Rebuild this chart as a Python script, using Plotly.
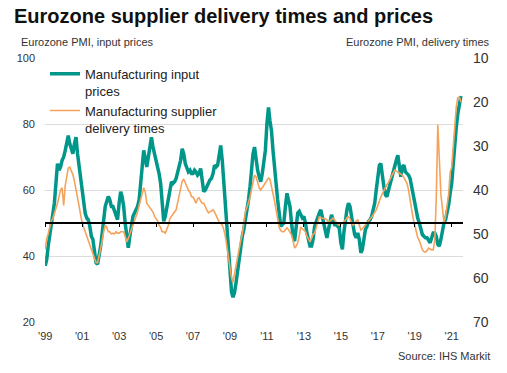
import pandas as pd
import plotly.graph_objects as go

# Manufacturing input prices (left axis), monthly from Jan 1999
input_prices = [
    37, 39, 43, 46, 49, 52, 56, 62, 68, 66, 67, 69,            # 1999
    70, 72, 74, 76.5, 74, 72, 71, 74, 76, 71, 67, 63,          # 2000
    59, 55, 53, 51.5, 51, 49, 46, 45, 42, 38, 37.5, 40,        # 2001
    43, 47, 51, 55, 56.5, 58, 57, 55, 55, 53.5, 52, 51,        # 2002
    56, 59.5, 58, 55, 50, 46, 42.5, 46, 50, 52, 53, 54,        # 2003
    55, 57, 63, 67, 72, 69, 67, 70, 73, 76, 73, 71,            # 2004
    70, 68, 65, 62, 55, 50.5, 52, 55, 58, 60, 62.5, 62,        # 2005
    62.5, 63.5, 65, 67, 69, 72.5, 71, 68, 67, 65.5, 66, 65,    # 2006
    65, 66, 65.5, 64.5, 65, 66.5, 63, 59.5, 60, 61, 62.5, 63,  # 2007
    63.5, 65, 67.5, 67, 67.5, 71, 73.5, 69, 62, 55, 48, 40,    # 2008
    34, 29, 27.5, 29, 32, 36, 40, 44, 46, 48, 51, 53,          # 2009
    57, 61, 66, 71, 73, 69, 66, 64, 62.5, 65, 68, 72,          # 2010
    80, 85, 81, 78, 72, 66, 61, 57, 53, 49, 49.5, 50,          # 2011
    55, 59, 57, 55, 50, 46, 44.5, 48, 53, 53.5, 52.5, 51.5,    # 2012
    52, 50, 47, 44.5, 43, 43, 45, 49, 50.5, 51.5, 53, 54,      # 2013
    52, 50, 48, 45.5, 48, 50.5, 52.5, 51, 49.5, 49.5, 49, 48.5,  # 2014
    44, 42, 47, 51.5, 54, 56, 55, 52, 49, 46.5, 45.5, 47,      # 2015
    45, 41, 42, 45, 48, 49, 50.5, 51, 52, 54, 56, 60,          # 2016
    64, 67.5, 68, 64, 61, 58.5, 58, 60, 62, 64, 66, 68,        # 2017
    69, 70.5, 66.5, 64, 67, 67.5, 65.5, 65, 64.5, 63.5, 61, 58,  # 2018
    56, 53.5, 51.5, 50, 48, 46.5, 46, 45.5, 45.5, 44.5, 44, 45.5,  # 2019
    47, 47, 46, 43.5, 43, 45, 48, 50, 51, 53, 55.5, 59,        # 2020
    62, 68, 74, 79, 83, 86.5, 88.5,                            # 2021
]

# Manufacturing supplier delivery times (right axis, inverted), monthly from Jan 1999
delivery_times = [
    53.5, 51, 50, 48, 47, 46.5, 45.5, 44, 43, 41.5, 40, 39.5,          # 1999
    43.5, 39, 37, 35, 34.8, 35.5, 36.5, 38, 40, 42, 44.5, 46,          # 2000
    47.5, 48.5, 49.5, 50.5, 51.5, 52.5, 53.5, 54.5, 55.5, 56.5, 56.5, 55,  # 2001
    53.5, 51.5, 49.5, 48, 48.5, 49.5, 49.5, 50, 49.8, 50, 49.5, 49.8,  # 2002
    49.8, 49.5, 49.5, 49.5, 50.5, 51.8, 51, 50, 48.5, 48, 47, 46,      # 2003
    45, 43.5, 42.3, 41, 39.5, 40.5, 43, 43.5, 44, 44.5, 45, 46,        # 2004
    46.5, 47, 48, 48.5, 49.5, 49.5, 49.8, 49, 48, 46.5, 46, 45.5,      # 2005
    45, 44.5, 43, 41.5, 40, 38, 37.5, 38.5, 39.5, 40, 40.5, 41.5,      # 2006
    41.6, 42.5, 43, 42, 41.8, 42.5, 43, 43, 44, 44.5, 45.2, 45,        # 2007
    44.8, 44.5, 45, 46, 46.5, 47.3, 47.5, 48, 49, 50.5, 53, 56,        # 2008
    58, 60, 61, 59, 57.5, 55, 53, 51.5, 50, 47.5, 45, 44,              # 2009
    43, 41.6, 40, 38, 36.6, 37, 38.5, 39.5, 40, 39.5, 38.8, 38.4,      # 2010
    38, 37.3, 37.5, 39, 40.5, 42.5, 44.5, 46.5, 48.5, 49.2, 49.5, 49.5,  # 2011
    49, 48.6, 49, 49.5, 50.2, 51.5, 53.2, 52.8, 52, 50.5, 48.4, 48.8,  # 2012
    49.2, 49.5, 50.5, 51.3, 51.8, 51, 50, 49.8, 48.5, 47, 46.1, 46.3,  # 2013
    46.4, 46.4, 46.6, 46.8, 47.5, 47, 46.6, 46.4, 46.8, 47.3, 47.8, 48,  # 2014
    47.8, 47.5, 47.3, 46.8, 46.3, 46.1, 46.6, 47.5, 48, 47.6, 47, 46.8,  # 2015
    47.8, 49.1, 48.8, 48.3, 48, 47.6, 47, 46.6, 46.2, 45.6, 45, 44.5,  # 2016
    43.5, 42.3, 41.6, 40.8, 40, 39.3, 38.8, 38.2, 37.5, 37, 36.2, 35.5,  # 2017
    35.7, 35.9, 36.2, 36.4, 36.6, 37.2, 37.8, 38.5, 40, 42.3, 44.5, 46.5,  # 2018
    48, 49.5, 50.8, 51.5, 52.5, 53.6, 54, 54.1, 53.8, 53.2, 53.4, 53.6,  # 2019
    53.6, 51.5, 42, 25.2, 33, 41, 44, 47.5, 46, 43, 41, 36,            # 2020
    34.8, 30, 25, 21.1, 19, 18.9, 20,                                  # 2021
]

year_ticks = ["'99", "'01", "'03", "'05", "'07", "'09", "'11", "'13", "'15", "'17", "'19", "'21"]
tick_years = list(range(1999, 2022, 2))
threshold = [50]   # no-change level of the input price index

dates = pd.date_range("1999-01-01", periods=len(input_prices), freq="MS")

GREEN = "#00968A"
ORANGE = "#F5A35C"
FONT = "Arial, Liberation Sans, sans-serif"

fig = go.Figure()
fig.add_trace(go.Scatter(
    x=dates, y=input_prices, mode="lines",
    name="Manufacturing input<br>prices",
    line=dict(color=GREEN, width=3.5), yaxis="y",
))
fig.add_trace(go.Scatter(
    x=dates[:len(delivery_times)], y=delivery_times, mode="lines",
    name="Manufacturing supplier<br>delivery times",
    line=dict(color=ORANGE, width=1.6), yaxis="y2",
))
# invisible trace so the mid-level axis (line at 50 with tick marks) is drawn
fig.add_trace(go.Scatter(x=[dates[0]], y=threshold, xaxis="x2", yaxis="y",
                         mode="markers", marker=dict(opacity=0),
                         showlegend=False, hoverinfo="skip"))

xr = ["1998-12-28", "2021-08-12"]
fig.update_layout(
    width=507, height=373,
    margin=dict(l=45, r=44, t=58, b=51, autoexpand=False),
    paper_bgcolor="white", plot_bgcolor="rgba(0,0,0,0)",
    font=dict(family=FONT, color="#333333", size=11),
    showlegend=True,
    legend=dict(x=0.0, y=0.997, xanchor="left", yanchor="top",
                bgcolor="rgba(0,0,0,0)", font=dict(size=13, color="#222222"),
                valign="top", tracegroupgap=3, itemwidth=30),
    xaxis=dict(type="date", range=xr, showgrid=False, zeroline=False,
               showline=False, ticks="", ticklabelstandoff=6,
               tickvals=[f"{y}-01-01" for y in tick_years], ticktext=year_ticks,
               tickfont=dict(size=11, color="#333333")),
    xaxis2=dict(type="date", range=xr, overlaying="x", anchor="free",
                position=(threshold[0] - 20) / 80, showline=True,
                linecolor="black", linewidth=1.5,
                ticks="outside", ticklen=3, tickcolor="black", tickwidth=1,
                tickvals=[f"{y}-01-01" for y in tick_years],
                showticklabels=False, showgrid=False, zeroline=False),
    yaxis=dict(range=[20, 100], tickvals=[20, 40, 60, 80, 100],
               showgrid=True, gridcolor="#dcdcdc", gridwidth=1,
               zeroline=False, showline=False, ticks="", ticklabelstandoff=9,
               tickfont=dict(size=11, color="#333333")),
    yaxis2=dict(range=[70, 10], overlaying="y", side="right",
                tickvals=[10, 20, 30, 40, 50, 60, 70],
                showgrid=False, zeroline=False, showline=False, ticks="",
                ticklabelstandoff=9,
                tickfont=dict(size=14, color="#333333")),
)

fig.add_annotation(text="<b>Eurozone supplier delivery times and prices</b>",
                   xref="paper", yref="paper", x=-0.079, y=1.0, xanchor="left",
                   yanchor="bottom", yshift=29, showarrow=False,
                   font=dict(size=20, color="#111111", family=FONT))
fig.add_annotation(text="Eurozone PMI, input prices", xref="paper", yref="paper",
                   x=-0.062, y=1.0, xanchor="left", yanchor="bottom", yshift=8,
                   showarrow=False, font=dict(size=11, color="#333333"))
fig.add_annotation(text="Eurozone PMI, delivery times", xref="paper", yref="paper",
                   x=1.07, y=1.0, xanchor="right", yanchor="bottom", yshift=8,
                   showarrow=False, font=dict(size=11, color="#333333"))
fig.add_annotation(text="Source: IHS Markit", xref="paper", yref="paper",
                   x=1.07, y=0, xanchor="right", yanchor="top", yshift=-26,
                   showarrow=False, font=dict(size=11, color="#333333"))

fig.write_html("out.html", config={"displayModeBar": False},
               post_script="document.body.style.margin='0';document.body.style.overflow='hidden';")
